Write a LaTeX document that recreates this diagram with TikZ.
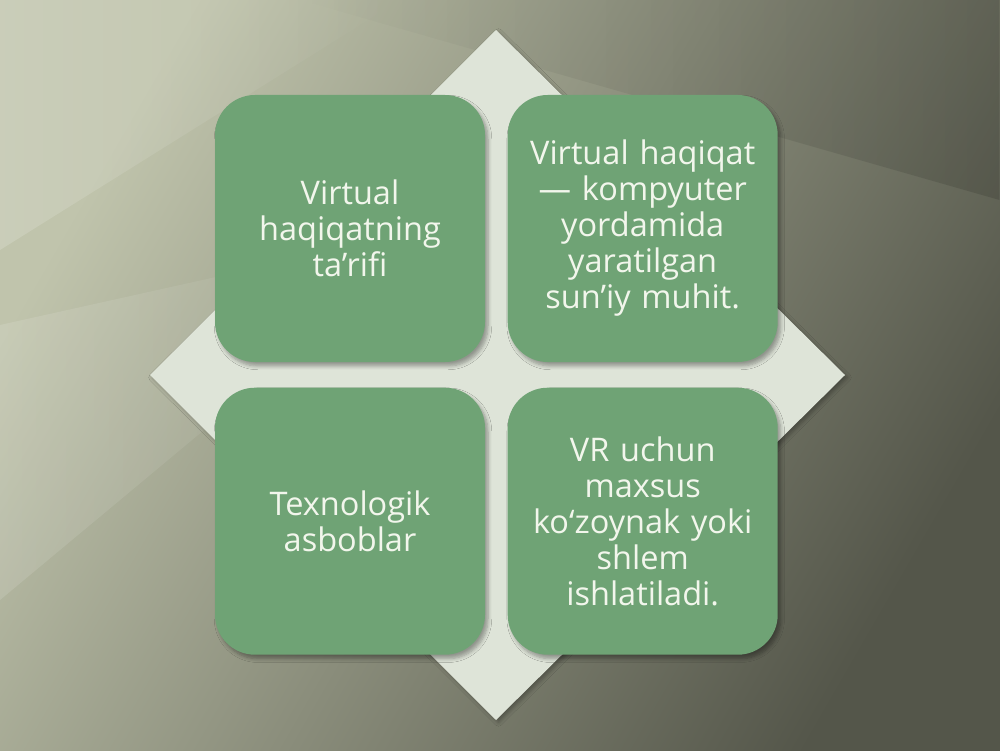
\documentclass[tikz,border=0pt]{standalone}
\usepackage{fontspec}
\setmainfont{Open Sans}
\usetikzlibrary{positioning,shadows.blur,fadings}

\definecolor{bglight}{RGB}{192,196,172}
\definecolor{bgdark}{RGB}{84,86,74}
\definecolor{rhomb}{RGB}{222,228,216}
\definecolor{tilegreen}{RGB}{111,163,117}
\definecolor{tiletext}{RGB}{242,246,236}

\tikzset{
    tile/.style={fill=tilegreen, rounded corners=0.8cm, minimum width=5.4cm,
        minimum height=5.34cm, text width=5cm, align=center, inner sep=0pt,
        text=tiletext, font=\fontsize{18.5}{20.5}\selectfont,
        blur shadow={shadow xshift=0.06cm, shadow yshift=-0.08cm, shadow blur steps=6, shadow opacity=35}},
}

\begin{document}
\begin{tikzpicture}
    \useasboundingbox (0,0) rectangle (20,15);
    %% background
    \shade[left color=bglight, right color=bgdark, shading angle=60] (0,0) rectangle (20,15);
    \fill[black, opacity=0.12, path fading=west] (6,15) -- (20,15) -- (20,11) -- cycle;
    \fill[white, opacity=0.16, path fading=east] (0,15) -- (8,15) -- (0,10) -- cycle;
    \fill[white, opacity=0.12, path fading=east] (0,8.5) -- (9,10.5) -- (0,3) -- cycle;
    % rhombus behind the tiles
    \coordinate (rt) at (9.92,14.4);
    \coordinate (rr) at (16.9,7.5);
    \coordinate (rb) at (9.92,0.6);
    \coordinate (rl) at (3.0,7.5);
    \fill[rhomb, blur shadow={shadow xshift=0.05cm, shadow yshift=-0.05cm, shadow opacity=30}]
        (rt) -- (rr) -- (rb) -- (rl) -- cycle;
    %% tiles
    \node[tile] (tl) at (7,10.43) {Virtual\\haqiqatning\\ta’rifi};
    \node[tile, right=0.44 of tl] (tr) {Virtual haqiqat\\— kompyuter\\yordamida\\yaratilgan\\sun’iy muhit.};
    \node[tile, below=0.5 of tl] (bl) {Texnologik\\asboblar};
    \node[tile, right=0.44 of bl] (br) {VR uchun\\maxsus\\ko‘zoynak yoki\\shlem\\ishlatiladi.};
\end{tikzpicture}
\end{document}
